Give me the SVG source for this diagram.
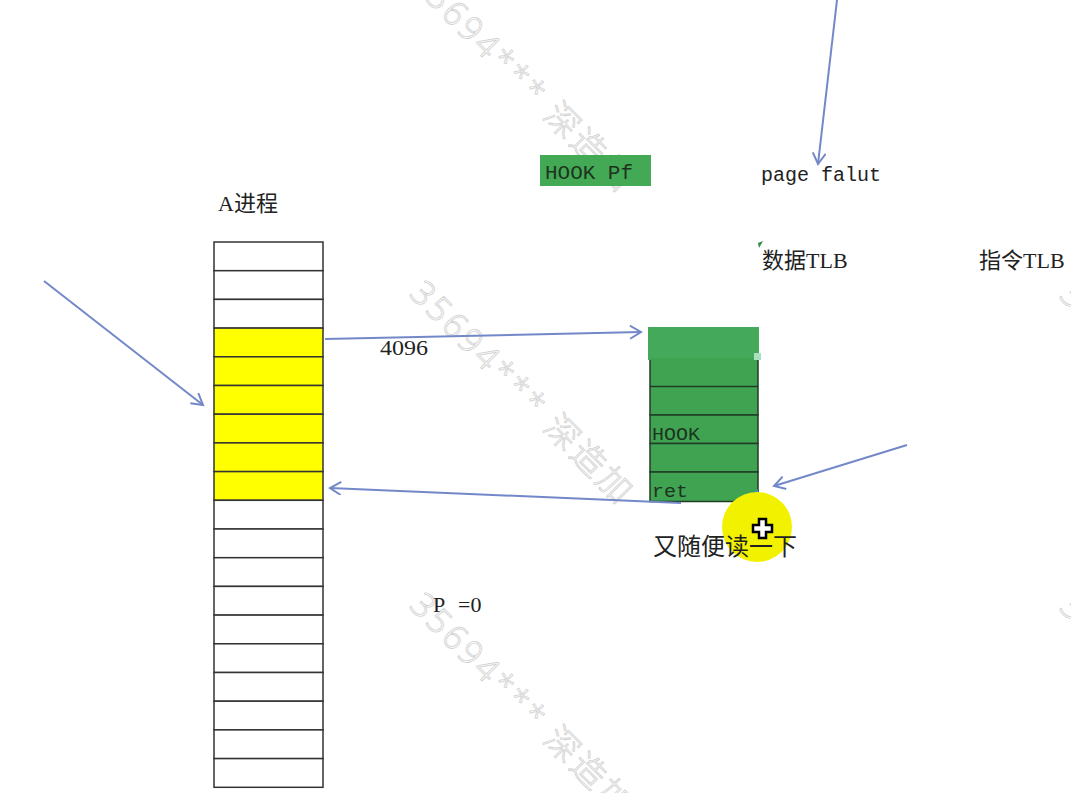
<svg xmlns="http://www.w3.org/2000/svg" width="1071" height="793" viewBox="0 0 1071 793">
  <style>
    .wm { font-family: "Noto Sans", "Noto Sans CJK SC", sans-serif; font-size: 34px; font-weight: 300; fill: none; stroke: #d4d4d4; stroke-width: 0.9; letter-spacing: 3px; }
    .cell { fill: #ffffff; stroke: #333333; stroke-width: 1.5; }
    .cell.y { fill: #ffff00; }
    .gcell { fill: #3fa352; stroke: #1f3d24; stroke-width: 1.5; }
    .conn { stroke: #7388c8; stroke-width: 2; fill: none; marker-end: url(#arr); }
    .serif { font-family: "Liberation Serif", "Noto Sans CJK SC", serif; fill: #222; }
    .cjk { font-family: "Noto Sans CJK SC", sans-serif; fill: #222; }
    .mono { font-family: "Liberation Mono", monospace; fill: #222; }
    .gtext { font-family: "Liberation Mono", monospace; fill: #1d3320; }
  </style>
  <defs>
    <marker id="arr" markerUnits="userSpaceOnUse" markerWidth="16" markerHeight="16" refX="12" refY="7" orient="auto" viewBox="0 0 16 16">
      <path d="M1,0.5 L12,7 L1,13.5" fill="none" stroke="#7388c8" stroke-width="2"/>
    </marker>
  </defs>
  <rect width="1071" height="793" fill="#ffffff"/>

  <g id="watermarks">
    <text class="wm" transform="translate(408,-17) rotate(45)">35694***  深造加</text>
    <text class="wm" transform="translate(408,295) rotate(45)">35694***  深造加</text>
    <text class="wm" transform="translate(408,607) rotate(45)">35694***  深造加</text>
    <text class="wm" transform="translate(1058,297) rotate(45)">35694***  深造加</text>
    <text class="wm" transform="translate(1058,609) rotate(45)">35694***  深造加</text>
    <text class="wm" transform="translate(-242,-50) rotate(45)">35694***  深造加</text>
    <text class="wm" transform="translate(-242,265) rotate(45)">35694***  深造加</text>
  </g>

  <g id="process-a">
    <text class="serif" x="218" y="211" font-size="22">A<tspan class="cjk">进程</tspan></text>
    <rect class="cell" x="214" y="242" width="109" height="28.7"/>
    <rect class="cell" x="214" y="270.7" width="109" height="28.7"/>
    <rect class="cell" x="214" y="299.4" width="109" height="28.7"/>
    <rect class="cell y" x="214" y="328.1" width="109" height="28.7"/>
    <rect class="cell y" x="214" y="356.8" width="109" height="28.7"/>
    <rect class="cell y" x="214" y="385.5" width="109" height="28.7"/>
    <rect class="cell y" x="214" y="414.2" width="109" height="28.7"/>
    <rect class="cell y" x="214" y="442.9" width="109" height="28.7"/>
    <rect class="cell y" x="214" y="471.6" width="109" height="28.7"/>
    <rect class="cell" x="214" y="500.3" width="109" height="28.7"/>
    <rect class="cell" x="214" y="529" width="109" height="28.7"/>
    <rect class="cell" x="214" y="557.7" width="109" height="28.7"/>
    <rect class="cell" x="214" y="586.4" width="109" height="28.7"/>
    <rect class="cell" x="214" y="615.1" width="109" height="28.7"/>
    <rect class="cell" x="214" y="643.8" width="109" height="28.7"/>
    <rect class="cell" x="214" y="672.5" width="109" height="28.7"/>
    <rect class="cell" x="214" y="701.2" width="109" height="28.7"/>
    <rect class="cell" x="214" y="729.9" width="109" height="28.7"/>
    <rect class="cell" x="214" y="758.6" width="109" height="28.7"/>
  </g>

  <g id="hook-pf">
    <rect x="540" y="155" width="111" height="31" fill="#44a954"/>
    <text class="gtext" x="545" y="179" font-size="20" textLength="88" lengthAdjust="spacingAndGlyphs">HOOK Pf</text>
  </g>

  <g id="page-fault">
    <text class="mono" x="761" y="181" font-size="20">page falut</text>
  </g>

  <g id="data-tlb">
    <path d="M758,243 L763,241 L759,248 Z" fill="#2e8a3e"/>
    <text class="cjk" x="762" y="268" font-size="22">数据<tspan class="serif">TLB</tspan></text>
  </g>

  <g id="instr-tlb">
    <text class="cjk" x="979" y="268" font-size="22">指令<tspan class="serif">TLB</tspan></text>
  </g>

  <g id="green-page">
    <rect x="648" y="327" width="111" height="33" fill="#44a95a"/>
    <rect x="650" y="358" width="108" height="28.5" fill="#3fa352"/>
    <line x1="650" y1="360" x2="650" y2="386" stroke="#1f3d24" stroke-width="1.5"/>
    <line x1="758" y1="360" x2="758" y2="386" stroke="#1f3d24" stroke-width="1.5"/>
    <rect class="gcell" x="650" y="386.5" width="108" height="28.5"/>
    <rect class="gcell" x="650" y="415" width="108" height="28.5"/>
    <rect class="gcell" x="650" y="443.5" width="108" height="28.5"/>
    <rect class="gcell" x="650" y="472" width="108" height="29.5"/>
    <rect x="754" y="353" width="7" height="7" fill="#a8e0c0"/>
    <path d="M745,500 L758,489 L758,500 Z" fill="#3d8fd0"/>
    <text class="gtext" x="652" y="440" font-size="19" textLength="48" lengthAdjust="spacingAndGlyphs">HOOK</text>
    <text class="gtext" x="652" y="497" font-size="19" textLength="36" lengthAdjust="spacingAndGlyphs">ret</text>
  </g>

  <g id="labels">
    <text class="serif" x="380" y="355" font-size="22" textLength="48" lengthAdjust="spacingAndGlyphs">4096</text>
    <text class="serif" x="433" y="612" font-size="22">P</text>
    <text class="serif" x="458" y="612" font-size="22">=0</text>
  </g>

  <g id="connectors">
    <line class="conn" x1="44" y1="281" x2="203" y2="405"/>
    <line class="conn" x1="325" y1="339" x2="641" y2="332"/>
    <line class="conn" x1="681" y1="503" x2="330" y2="488"/>
    <line class="conn" x1="907" y1="445" x2="774" y2="486"/>
    <line class="conn" x1="837" y1="0" x2="818" y2="164"/>
  </g>

  <g id="cursor-note">
    <circle cx="757" cy="527" r="35" fill="#f2f200"/>
    <text class="cjk" x="653" y="555" font-size="24">又随便读一下</text>
    <path d="M759,519 L766,519 L766,525 L772,525 L772,532 L766,532 L766,538 L759,538 L759,532 L753,532 L753,525 L759,525 Z" fill="#ffffff" stroke="#000000" stroke-width="2.5" stroke-linejoin="miter"/>
  </g>
</svg>
